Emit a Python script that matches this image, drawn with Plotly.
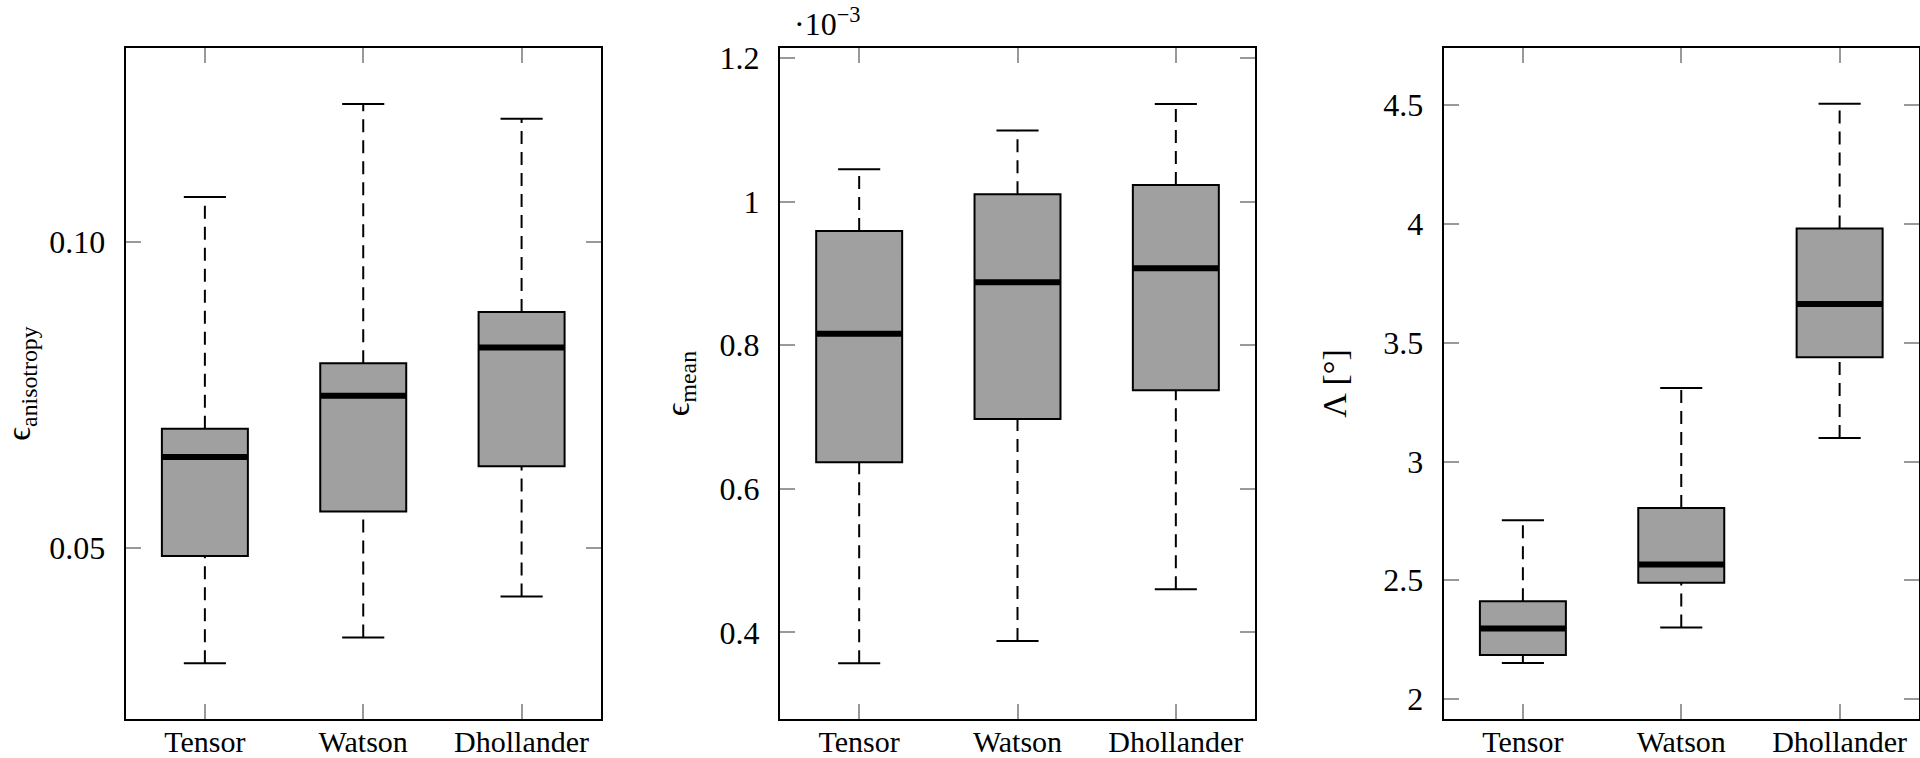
import plotly.graph_objects as go

categories = ["Tensor", "Watson", "Dhollander"]

# Panel 1: epsilon anisotropy
aniso_lower = [0.0311, 0.0353, 0.0420]
aniso_q1 = [0.0486, 0.0559, 0.0633]
aniso_median = [0.0648, 0.0748, 0.0827]
aniso_q3 = [0.0694, 0.0801, 0.0885]
aniso_upper = [0.1073, 0.1225, 0.1201]

# Panel 2: epsilon mean (x 1e-3)
mean_lower = [0.357, 0.388, 0.460]
mean_q1 = [0.637, 0.697, 0.737]
mean_median = [0.816, 0.8875, 0.907]
mean_q3 = [0.959, 1.010, 1.023]
mean_upper = [1.045, 1.099, 1.136]

# Panel 3: Lambda [deg]
lam_lower = [2.151, 2.301, 3.099]
lam_q1 = [2.185, 2.489, 3.439]
lam_median = [2.297, 2.566, 3.663]
lam_q3 = [2.411, 2.804, 3.981]
lam_upper = [2.753, 3.309, 4.506]

aniso_ticks = [0.05, 0.10]
aniso_ticktext = ["0.05", "0.10"]
mean_ticks = [0.4, 0.6, 0.8, 1.0, 1.2]
mean_ticktext = ["0.4", "0.6", "0.8", "1", "1.2"]
lam_ticks = [2, 2.5, 3, 3.5, 4, 4.5]
lam_ticktext = ["2", "2.5", "3", "3.5", "4", "4.5"]

BOX_W = 0.543
CAP_HALF = 0.133
FILL = "#a0a0a0"
FONT = "Liberation Serif, Times New Roman, Times, serif"

fig = go.Figure()

panels = [
    (aniso_lower, aniso_q1, aniso_median, aniso_q3, aniso_upper, "x", "y"),
    (mean_lower, mean_q1, mean_median, mean_q3, mean_upper, "x2", "y2"),
    (lam_lower, lam_q1, lam_median, lam_q3, lam_upper, "x3", "y3"),
]

for lo, q1, med, q3, up, xa, ya in panels:
    xs = list(range(len(categories)))
    # whiskers (dashed)
    wx, wy = [], []
    for i in xs:
        wx += [i, i, None, i, i, None]
        wy += [q3[i], up[i], None, lo[i], q1[i], None]
    fig.add_trace(go.Scatter(x=wx, y=wy, mode="lines", xaxis=xa, yaxis=ya,
                             line=dict(color="black", width=2, dash="13px,8px"),
                             showlegend=False, hoverinfo="skip"))
    # caps
    cx, cy = [], []
    for i in xs:
        cx += [i - CAP_HALF, i + CAP_HALF, None, i - CAP_HALF, i + CAP_HALF, None]
        cy += [up[i], up[i], None, lo[i], lo[i], None]
    fig.add_trace(go.Scatter(x=cx, y=cy, mode="lines", xaxis=xa, yaxis=ya,
                             line=dict(color="black", width=2),
                             showlegend=False, hoverinfo="skip"))
    # boxes
    fig.add_trace(go.Bar(x=xs, y=[q3[i] - q1[i] for i in xs], base=q1,
                         width=BOX_W, xaxis=xa, yaxis=ya,
                         marker=dict(color=FILL, line=dict(color="black", width=2)),
                         showlegend=False, hoverinfo="skip"))
    # medians
    mx, my = [], []
    for i in xs:
        mx += [i - BOX_W / 2, i + BOX_W / 2, None]
        my += [med[i], med[i], None]
    fig.add_trace(go.Scatter(x=mx, y=my, mode="lines", xaxis=xa, yaxis=ya,
                             line=dict(color="black", width=6),
                             showlegend=False, hoverinfo="skip"))

ydom = [0.0517, 0.9363]
xdoms = [[0.06547, 0.3129], [0.40625, 0.65365], [0.75193, 0.99938]]
yranges = [[0.0220, 0.1316], [0.2795, 1.2135], [1.9165, 4.740]]
yticks = [(aniso_ticks, aniso_ticktext), (mean_ticks, mean_ticktext), (lam_ticks, lam_ticktext)]
ytitles = ["ϵ<sub>anisotropy</sub>", "ϵ<sub>mean</sub>", "Λ [°]"]
title_standoffs = [60, 20, 26]

common_axis = dict(showline=True, linecolor="black", linewidth=2, mirror="ticks",
                   ticks="inside", ticklen=15, tickwidth=1.5, tickcolor="#999999",
                   showgrid=False, zeroline=False, automargin=False,
                   tickfont=dict(family=FONT, size=32, color="black"))

layout = dict(width=1920, height=758, margin=dict(l=0, r=0, t=0, b=0, autoexpand=False),
              plot_bgcolor="white", paper_bgcolor="white", barmode="overlay",
              font=dict(family=FONT, color="black"))

for k in range(3):
    sx = "" if k == 0 else str(k + 1)
    layout["xaxis" + sx] = dict(common_axis, domain=xdoms[k], anchor="y" + sx,
                                range=[-0.5, 2.5], tickvals=[0, 1, 2],
                                ticktext=categories, ticklabelstandoff=-5,
                                tickfont=dict(family=FONT, size=30, color="black"))
    layout["yaxis" + sx] = dict(common_axis, domain=ydom, anchor="x" + sx,
                                range=yranges[k], tickvals=yticks[k][0],
                                ticktext=yticks[k][1], ticklabelstandoff=12,
                                title=dict(text=ytitles[k], standoff=title_standoffs[k],
                                           font=dict(family=FONT, size=34)))

fig.update_layout(**layout)

fig.add_annotation(text="·10<sup>−3</sup>", xref="paper", yref="paper",
                   x=792 / 1920, y=1.0, xanchor="left", yanchor="top",
                   showarrow=False, font=dict(family=FONT, size=32, color="black"))

fig.write_html("out.html", config={"displayModeBar": False},
               post_script="document.body.style.margin='0';")
